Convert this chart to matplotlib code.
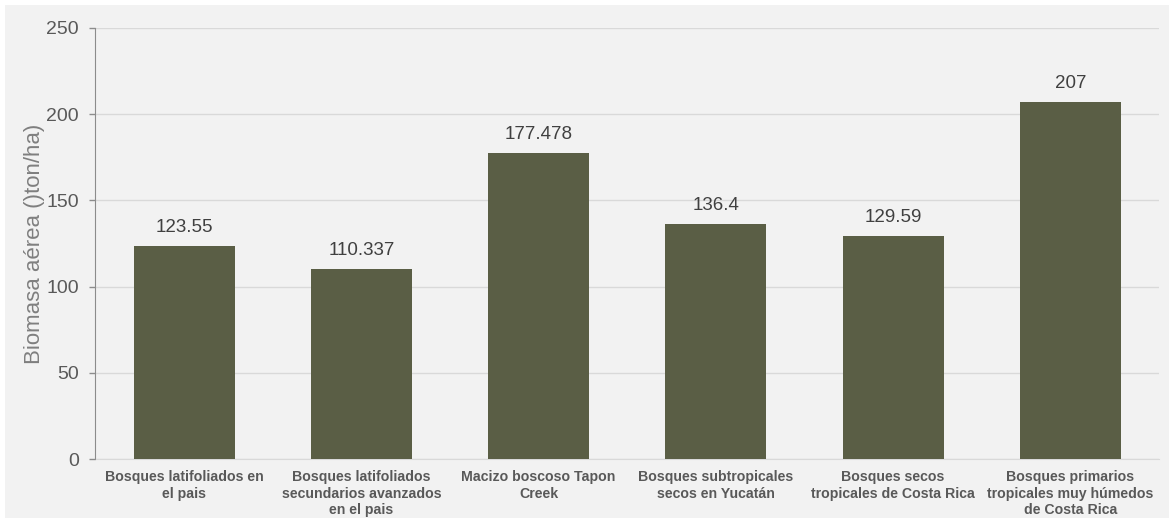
import matplotlib
matplotlib.use("Agg")
import matplotlib.pyplot as plt
from matplotlib.patches import Rectangle

categories = [
    "Bosques latifoliados en\nel pais",
    "Bosques latifoliados\nsecundarios avanzados\nen el pais",
    "Macizo boscoso Tapon\nCreek",
    "Bosques subtropicales\nsecos en Yucatán",
    "Bosques secos\ntropicales de Costa Rica",
    "Bosques primarios\ntropicales muy húmedos\nde Costa Rica",
]
values = [123.55, 110.337, 177.478, 136.4, 129.59, 207]
value_labels = ["123.55", "110.337", "177.478", "136.4", "129.59", "207"]
y_ticks = [0, 50, 100, 150, 200, 250]

plt.rcParams["font.family"] = ["Liberation Sans", "DejaVu Sans"]

W, H = 1174, 523
fig = plt.figure(figsize=(W / 100, H / 100), dpi=100, facecolor="white")
bg = "#f2f2f2"
fig.patches.append(Rectangle((5 / W, 5 / H), (W - 10) / W, (H - 10) / H,
                             transform=fig.transFigure, facecolor=bg,
                             edgecolor="none", zorder=-10))

ax = fig.add_axes([95.5 / W, (H - 459) / H, (1159 - 95.5) / W, (459 - 28) / H])
ax.set_facecolor(bg)

x = list(range(len(categories)))
bars = ax.bar(x, values, width=0.57, color="#5a5e45", zorder=3)

for xi, v, lab in zip(x, values, value_labels):
    ax.annotate(lab, (xi, v), xytext=(0, 7), textcoords="offset points",
                ha="center", va="bottom", fontsize=13.5, color="#404040")

ax.set_xlim(-0.5, len(categories) - 0.5)
ax.set_ylim(0, 250)
ax.set_yticks(y_ticks)
ax.set_yticklabels([str(t) for t in y_ticks], fontsize=14, color="#595959")
ax.set_xticks(x)
ax.set_xticklabels(categories, fontsize=10.2, fontweight="bold", color="#595959",
                   linespacing=1.22)
ax.tick_params(axis="x", length=0, pad=8)
ax.tick_params(axis="y", length=4, width=1, color="#8c8c8c", pad=8)

ax.grid(axis="y", color="#d9d9d9", linewidth=1, zorder=0)
for s in ["top", "right"]:
    ax.spines[s].set_visible(False)
ax.spines["left"].set_color("#8c8c8c")
ax.spines["bottom"].set_color("#d9d9d9")

ax.set_ylabel("Biomasa aérea ()ton/ha)", fontsize=16, color="#7f7f7f", labelpad=1)

fig.savefig("out.png", dpi=100, facecolor="white")
